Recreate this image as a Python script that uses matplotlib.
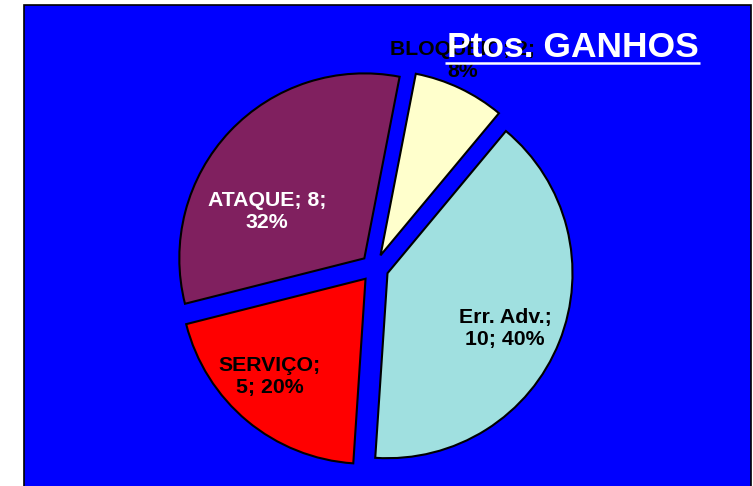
import numpy as np
import matplotlib
matplotlib.use("Agg")
import matplotlib.pyplot as plt
from matplotlib.patches import Rectangle

plt.rcParams["font.family"] = ["Liberation Sans", "DejaVu Sans"]

# data (order as drawn clockwise from the top)
CATEGORIES = ["BLOQUEIO", "Err. Adv.", "SERVIÇO", "ATAQUE"]
POINTS = [2, 10, 5, 8]
COLORS = ["#FFFFCC", "#A0E0E0", "#FF0000", "#80205F"]
TEXT_COLORS = ["black", "black", "black", "white"]
BREAK_AFTER_NAME = [False, True, True, False]
TITLE = "Ptos. GANHOS"

# label placement: (fraction of radius from wedge apex, angle offset in deg)
LABEL_PLACE = [(1.146, 2.5), (0.704, -3.5), (0.737, -4.7), (0.585, 17.5)]

W, H = 753, 486
fig = plt.figure(figsize=(W / 100, H / 100), dpi=100)
ax = fig.add_axes([0, 0, 1, 1])

# blue chart area with black border
ax.add_patch(Rectangle((24.5, -5), 726.5, 486, facecolor="#0000FF",
                       edgecolor="black", linewidth=1.2, zorder=0))

total = sum(POINTS)
wedges, _ = ax.pie(POINTS, colors=COLORS, startangle=79, counterclock=False,
                   radius=185, center=(374.5, 218), explode=[14] * len(POINTS),
                   wedgeprops=dict(edgecolor="black", linewidth=1.5))

for w, cat, val, tc, brk, (dist, off) in zip(wedges, CATEGORIES, POINTS, TEXT_COLORS,
                                            BREAK_AFTER_NAME, LABEL_PLACE):
    pct = round(100 * val / total)
    if brk:
        lab = "{};\n{}; {}%".format(cat, val, pct)
    else:
        lab = "{}; {};\n{}%".format(cat, val, pct)
    mid = np.radians((w.theta1 + w.theta2) / 2 + off)
    cx, cy = w.center
    ax.text(cx + dist * w.r * np.cos(mid), cy + dist * w.r * np.sin(mid), lab,
            ha="center", va="center", fontsize=15.3, fontweight="bold", color=tc,
            linespacing=1.2, multialignment="center", zorder=5)

t = ax.text(447, 429, TITLE, fontsize=25.5, fontweight="bold", color="white",
            ha="left", va="baseline", zorder=10)

ax.set_xlim(0, W)
ax.set_ylim(0, H)
ax.set_aspect("equal")
ax.axis("off")

# underline under the title
fig.canvas.draw()
bb = t.get_window_extent().transformed(ax.transData.inverted())
ax.plot([bb.x0 - 2, bb.x1 + 1], [423, 423], color="white", linewidth=1.8,
        solid_capstyle="butt", zorder=10)

fig.savefig("out.png", dpi=100)
